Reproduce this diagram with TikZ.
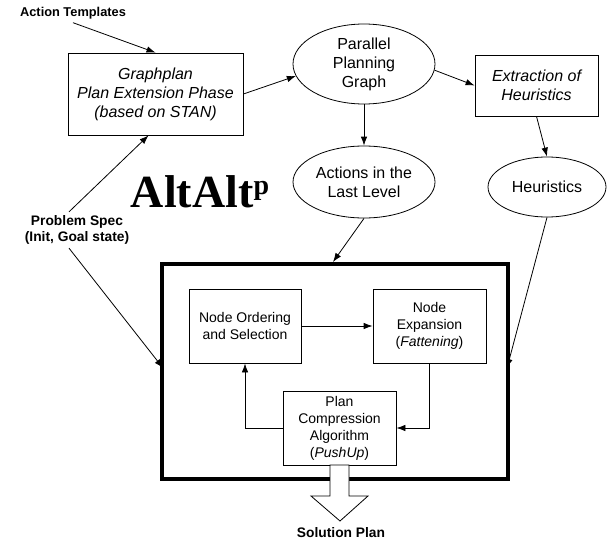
\documentclass[tikz,border=0pt]{standalone}
\usepackage{fontspec}
\setmainfont{Liberation Sans}
\newfontfamily\serifbf{Liberation Serif}
\usetikzlibrary{shapes.geometric, positioning, arrows.meta}

\begin{document}
\begin{tikzpicture}[>={Latex[length=9pt,width=6.5pt]}, x=1pt, y=-1pt, line width=0.8pt,
    box/.style={draw, align=center, inner sep=2pt},
    oval/.style={draw, ellipse, align=center, inner sep=0pt},
    lbl/.style={align=center, font=\fontsize{13.8}{16}\selectfont\bfseries},
    big/.style={font=\fontsize{16}{19}\selectfont},
    small/.style={font=\fontsize{14}{17}\selectfont}]
    \useasboundingbox (0,0) rectangle (608,546);

    % 1. Nhãn đầu vào
    \node[lbl, font=\fontsize{12.8}{15}\selectfont\bfseries] (templ) at (73,13) {Action Templates};
    \node[lbl] (spec) at (77,230) {Problem Spec\\(Init, Goal state)};

    % 2. Phần lập đồ thị
    \node[box, big, minimum width=175, minimum height=82] (graphplan) at (155.5,94)
        {\itshape Graphplan\\\itshape Plan Extension Phase\\\itshape (based on STAN)};
    \node[oval, big, minimum width=142, minimum height=80] (ppg) at (364,64)
        {Parallel\\Planning\\Graph};
    \node[box, big, minimum width=123, minimum height=61] (extract) at (536.5,85.5)
        {\itshape Extraction of\\\itshape Heuristics};
    \node[oval, big, minimum width=142, minimum height=72] (actions) at (364,182)
        {Actions in the\\Last Level};
    \node[oval, big, minimum width=118, minimum height=60] (heur) at (547,187) {Heuristics};

    % 3. Tên hệ thống
    \node[font=\fontsize{46}{50}\selectfont\serifbf\bfseries, inner sep=0pt] (title) at (200,192)
        {AltAlt\raisebox{0.28em}{\fontsize{28}{30}\selectfont p}};

    % 4. Khung tìm kiếm
    \node[draw, line width=3.5pt, minimum width=346, minimum height=215] (search) at (335,371.5) {};
    \node[box, small, minimum width=112, minimum height=74] (order) at (245,326)
        {Node Ordering\\and Selection};
    \node[box, small, minimum width=113, minimum height=74] (expand) at (429.5,326)
        {Node\\Expansion\\(\textit{Fattening})};
    \node[box, small, minimum width=113, minimum height=74] (compress) at (339.5,428)
        {Plan\\Compression\\Algorithm\\(\textit{PushUp})};
    \node[lbl] (sol) at (341,533) {Solution Plan};

    % 5. Các mũi tên
    \coordinate (topin) at (333,262);
    \coordinate (rightin) at (507,368);
    \coordinate (leftin) at (163,368);
    \draw[->] (templ.south) -- (graphplan.north);
    \draw[->] ([xshift=-8]spec.north) -- ([xshift=-7]graphplan.south);
    \draw[->] ([xshift=-8]spec.south) -- (leftin);
    \draw[->] (graphplan.east) -- (ppg.190);
    \draw[->] (ppg.-5) -- (extract.west);
    \draw[->] (ppg.south) -- (actions.north);
    \draw[->] (extract.south) -- (heur.north);
    \draw[->] (actions.south) -- (topin);
    \draw[->] (heur.south) -- (rightin);
    \draw[->] (order.east) -- (expand.west);
    \draw[->] (expand.south) |- (compress.east);
    \draw[->] (compress.west) -| (order.south);

    % 6. Mũi tên rỗng ra lời giải
    \draw[fill=white] (330,465) -- (330,496) -- (311,496) -- (340,521)
        -- (368,496) -- (349,496) -- (349,465) -- cycle;
\end{tikzpicture}
\end{document}
